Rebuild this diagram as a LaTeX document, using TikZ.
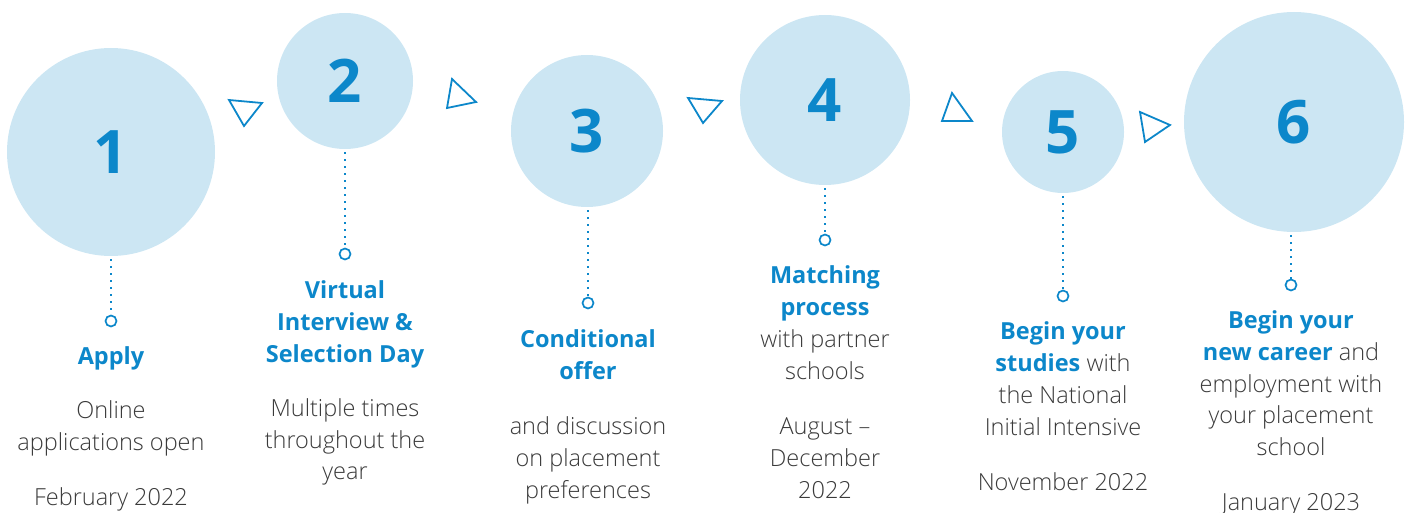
\documentclass[tikz,border=0pt]{standalone}
\usepackage{fontspec}
\setmainfont{Open Sans}[UprightFont={* Light},BoldFont={* Bold}]
\definecolor{circ}{HTML}{CCE6F3}
\definecolor{blu}{HTML}{0C87CA}
\definecolor{txt}{HTML}{3A3A3A}
\newcommand{\tl}[4]{\node[tline] (#1) at (#2,#3) {#4};}
\newcommand{\hb}[1]{\textcolor{blu}{\textbf{#1}}}
\begin{document}
\begin{tikzpicture}[x=1pt,y=-1pt,
  bigc/.style={circle,fill=circ,inner sep=0pt,minimum size=#1,font=\fontsize{60}{60}\selectfont\bfseries,text=blu},
  dotl/.style={blu,line width=1.6pt,dash pattern=on 1.6pt off 5.4pt},
  smallc/.style={circle,draw=blu,line width=1.7pt,fill=white,minimum size=11pt,inner sep=0pt},
  tri/.style={draw=blu,line width=1.8pt,line join=miter},
  tline/.style={anchor=base,inner sep=0pt,text=txt,font=\fontsize{23.5}{23.5}\selectfont}]
\useasboundingbox (0,0) rectangle (1407,513);
% big circles
\node[bigc=208pt] (c1) at (111,152) {1};
\node[bigc=136pt] (c2) at (345,81) {2};
\node[bigc=152pt] (c3) at (587,131) {3};
\node[bigc=170pt] (c4) at (825,100) {4};
\node[bigc=122pt] (c5) at (1063,132) {5};
\node[bigc=220pt] (c6) at (1294,122) {6};
% small circles
\node[smallc] (s1) at (111,321) {};
\node[smallc] (s2) at (345,254) {};
\node[smallc] (s3) at (588,303) {};
\node[smallc] (s4) at (825,240) {};
\node[smallc] (s5) at (1063,296) {};
\node[smallc] (s6) at (1291,285) {};
\draw[dotl] (c1.south) ++(0,3) -- (s1.north);
\draw[dotl] (c2.south) ++(0,3) -- (s2.north);
\draw[dotl] (c3.south) ++(1,3) -- (s3.north);
\draw[dotl] (c4.south) ++(0,3) -- (s4.north);
\draw[dotl] (c5.south) ++(0,3) -- (s5.north);
\draw[dotl] (c6.south) ++(-3,3) -- (s6.north);
% triangles
\draw[tri] (229,100) -- (262,103) -- (244,126) -- cycle;
\draw[tri] (452,79) -- (476,102) -- (447,108) -- cycle;
\draw[tri] (688,98) -- (722,101) -- (703,123) -- cycle;
\draw[tri] (952,93) -- (972,121) -- (942,121) -- cycle;
\draw[tri] (1140,112) -- (1170,125) -- (1145,142) -- cycle;
% texts 1
\tl{a1}{111}{364}{\hb{Apply}}
\tl{a2}{111}{418}{Online}
\tl{a3}{111}{450}{applications open}
\tl{a4}{111}{505}{February 2022}
% texts 2
\tl{b1}{345}{298}{\hb{Virtual}}
\tl{b2}{345}{330}{\hb{Interview \&}}
\tl{b3}{345}{362}{\hb{Selection Day}}
\tl{b4}{345}{416}{Multiple times}
\tl{b5}{345}{448}{throughout the}
\tl{b6}{345}{479}{year}
% texts 3
\tl{d1}{588}{347}{\hb{Conditional}}
\tl{d2}{588}{379}{\hb{offer}}
\tl{d3}{588}{434}{and discussion}
\tl{d4}{588}{466}{on placement}
\tl{d5}{588}{498}{preferences}
% texts 4
\tl{e1}{825}{283}{\hb{Matching}}
\tl{e2}{825}{315}{\hb{process}}
\tl{e3}{825}{347}{with partner}
\tl{e4}{825}{379}{schools}
\tl{e5}{825}{434}{August –}
\tl{e6}{825}{466}{December}
\tl{e7}{825}{498}{2022}
% texts 5
\tl{f1}{1063}{339}{\hb{Begin your}}
\tl{f2}{1063}{371}{\hb{studies} with}
\tl{f3}{1063}{403}{the National}
\tl{f4}{1063}{435}{Initial Intensive}
\tl{f5}{1063}{490}{November 2022}
% texts 6
\tl{g1}{1291}{328}{\hb{Begin your}}
\tl{g2}{1291}{360}{\hb{new career} and}
\tl{g3}{1291}{392}{employment with}
\tl{g4}{1291}{423}{your placement}
\tl{g5}{1291}{455}{school}
\tl{g6}{1291}{510}{January 2023}
\end{tikzpicture}
\end{document}
